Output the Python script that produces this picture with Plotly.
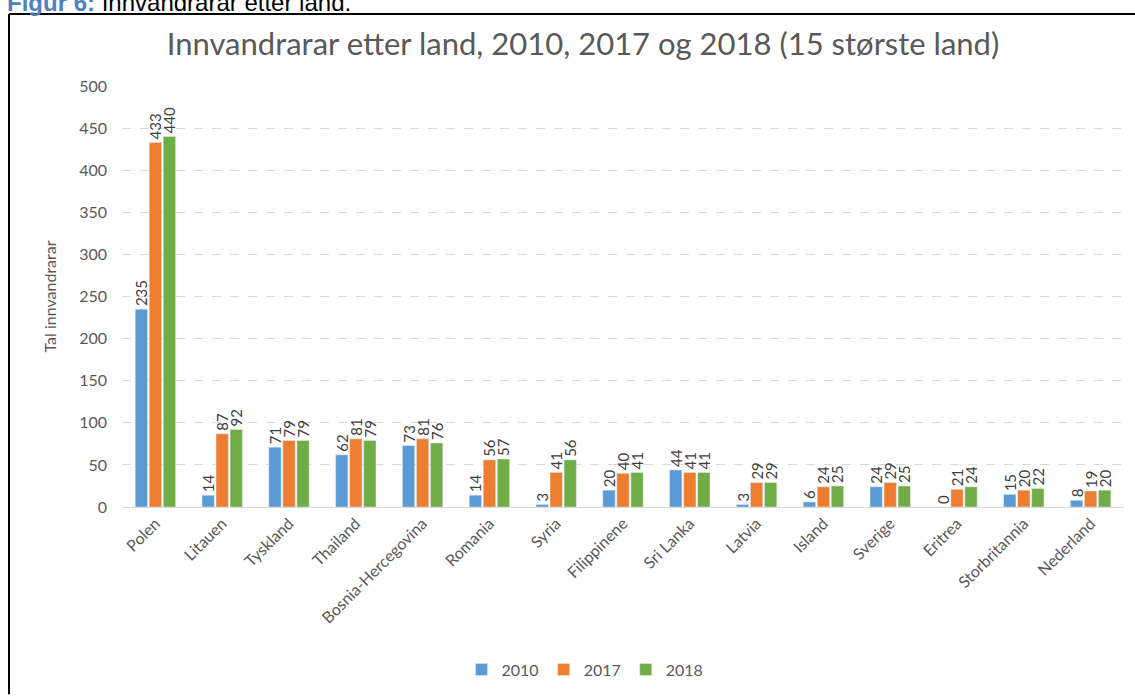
import plotly.graph_objects as go

# Innvandrarar etter land (15 største land)
land = ["Polen", "Litauen", "Tyskland", "Thailand", "Bosnia-Hercegovina", "Romania",
        "Syria", "Filippinene", "Sri Lanka", "Latvia", "Island", "Sverige",
        "Eritrea", "Storbritannia", "Nederland"]
v2010 = [235, 14, 71, 62, 73, 14, 3, 20, 44, 3, 6, 24, 0, 15, 8]
v2017 = [433, 87, 79, 81, 81, 56, 41, 40, 41, 29, 24, 29, 21, 20, 19]
v2018 = [440, 92, 79, 79, 76, 57, 56, 41, 41, 29, 25, 25, 24, 22, 20]
y_ticks = [0, 50, 100, 150, 200, 250, 300, 350, 400, 450, 500]

FONT = "Lato"
GREY = "#595959"

W, H = 1135, 698
L, R, T, B = 122, 11, 86, 185
plot_w = W - L - R
plot_h = H - T - B


def px_x(x):
    return (x - L) / plot_w


def px_y(y):
    return (H - B - y) / plot_h


fig = go.Figure()
for name, vals, col in [("2010", v2010, "#5b9bd5"),
                        ("2017", v2017, "#ed7d31"),
                        ("2018", v2018, "#70ad47")]:
    fig.add_trace(go.Bar(
        x=land, y=vals, name=name, marker_color=col,
        text=[str(v) for v in vals], textposition="outside",
        textangle=-90, cliponaxis=False, constraintext="none",
        textfont=dict(family=FONT, size=15, color="#404040"),
    ))

fig.update_layout(
    width=W, height=H,
    margin=dict(l=L, r=R, t=T, b=B),
    paper_bgcolor="white", plot_bgcolor="white",
    barmode="group", bargap=0.37, bargroupgap=0.12,
    uniformtext=dict(minsize=15, mode="show"),
    font=dict(family=FONT, color=GREY),
    title=dict(text="Innvandrarar etter land, 2010, 2017 og 2018 (15 største land)",
               x=583 / W, xanchor="center", y=1 - 44 / H, yanchor="middle",
               font=dict(family=FONT, size=31, color=GREY)),
    legend=dict(orientation="h", x=px_x(585), xanchor="center",
                y=px_y(678), yanchor="middle",
                font=dict(family=FONT, size=16, color=GREY),
                itemwidth=30, traceorder="normal"),
    yaxis=dict(range=[0, 500], tickvals=y_ticks,
               showgrid=True, gridcolor="#d9d9d9", griddash="dash", gridwidth=1,
               zeroline=False, showline=False, ticklabelstandoff=14,
               tickfont=dict(family=FONT, size=16, color=GREY),
               title=dict(text="Tal innvandrarar", standoff=18,
                          font=dict(family=FONT, size=16, color=GREY))),
    xaxis=dict(tickangle=-45, showline=True, linecolor="#d9d9d9", linewidth=1,
               tickfont=dict(family=FONT, size=16, color=GREY), ticks=""),
    showlegend=True,
)

# Frame around the figure (left and top edges)
fig.add_shape(type="line", xref="paper", yref="paper",
              x0=px_x(9), x1=px_x(9), y0=px_y(13), y1=px_y(H + 5),
              line=dict(color="black", width=2))
fig.add_shape(type="line", xref="paper", yref="paper",
              x0=px_x(9), x1=px_x(W + 5), y0=px_y(13), y1=px_y(13),
              line=dict(color="black", width=2))

# Caption above the frame
fig.add_annotation(
    xref="paper", yref="paper", x=px_x(5), y=px_y(17),
    xanchor="left", yanchor="bottom", showarrow=False,
    text="<b><span style='color:#4f81bd'>Figur 6:</span></b> Innvandrarar etter land.",
    font=dict(family="Liberation Sans", size=24, color="black"),
)

fig.write_html("out.html")
